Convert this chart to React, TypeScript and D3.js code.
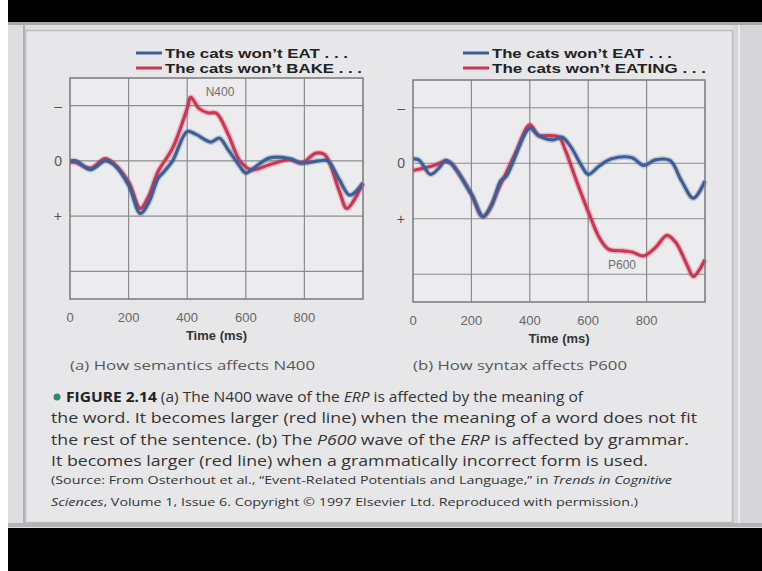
import { useEffect, useRef } from "react";
import * as d3 from "d3";

// x ticks (ms) and y ticks (ERP amplitude, negative plotted up)
const xTicks = [0, 200, 400, 600, 800];
const yTickValues = [-1, 0, 1];
const yTickLabels = ["\u2013", "0", "+"];
const yGrid = [-1, 0, 1, 2];

// (a) semantics panel
const timeEatA = [0, 20, 70, 120, 150, 200, 240, 270, 300, 320, 350, 400, 430, 480, 510, 540, 580, 600, 630, 680, 750, 790, 850, 880, 920, 955, 1000];
const eatA = [0, 0, 0.16, 0, 0.07, 0.44, 0.95, 0.74, 0.32, 0.2, 0, -0.53, -0.48, -0.34, -0.41, -0.2, 0.1, 0.22, 0.12, -0.05, -0.04, 0.04, 0, 0, 0.35, 0.62, 0.4];
const timeBakeA = [0, 20, 70, 120, 150, 200, 240, 270, 300, 350, 400, 412, 440, 470, 500, 540, 580, 620, 680, 750, 790, 840, 870, 920, 945, 1000];
const bakeA = [0.02, 0.03, 0.13, -0.04, 0.05, 0.38, 0.86, 0.62, 0.2, -0.23, -0.95, -1.15, -0.95, -0.87, -0.86, -0.48, 0, 0.16, 0.07, -0.02, 0.04, -0.14, -0.11, 0.56, 0.86, 0.4];

// (b) syntax panel
const timeEatB = [0, 20, 60, 90, 110, 130, 200, 240, 270, 300, 320, 400, 430, 480, 510, 540, 580, 600, 640, 680, 750, 790, 830, 880, 920, 960, 1000];
const eatB = [-0.08, -0.06, 0.2, 0.08, -0.05, 0, 0.56, 0.96, 0.75, 0.32, 0.23, -0.63, -0.5, -0.42, -0.47, -0.3, 0.07, 0.2, 0.04, -0.08, -0.1, 0.04, -0.06, -0.05, 0.32, 0.63, 0.32];
const timeEatingB = [0, 60, 110, 130, 200, 240, 300, 350, 400, 430, 460, 500, 520, 560, 600, 640, 670, 720, 750, 790, 830, 870, 900, 940, 960, 1000];
const eatingB = [0.13, 0.06, -0.03, 0, 0.56, 0.96, 0.38, -0.17, -0.69, -0.5, -0.5, -0.47, -0.26, 0.32, 0.87, 1.36, 1.55, 1.58, 1.6, 1.67, 1.52, 1.3, 1.43, 1.85, 2.04, 1.74];

const legendA = ["The cats won\u2019t EAT . . .", "The cats won\u2019t BAKE . . ."];
const legendB = ["The cats won\u2019t EAT . . .", "The cats won\u2019t EATING . . ."];

const BLUE = "#3d5f97";
const RED = "#cf3452";

export default function App() {
  const svgRef = useRef<SVGSVGElement>(null);

  useEffect(() => {
    if (!svgRef.current) return;
    const svg = d3.select(svgRef.current);
    svg.selectAll("*").remove();

    // slide background / frame
    svg.append("rect").attr("width", 762).attr("height", 571).attr("fill", "#fff");
    svg.append("rect").attr("x", 8).attr("y", 0).attr("width", 754).attr("height", 23).attr("fill", "#000");
    svg.append("rect").attr("x", 8).attr("y", 527).attr("width", 754).attr("height", 44).attr("fill", "#000");
    svg.append("rect").attr("x", 8).attr("y", 22).attr("width", 754).attr("height", 506).attr("fill", "#dedee0");
    svg.append("rect").attr("x", 8).attr("y", 22).attr("width", 754).attr("height", 3).attr("fill", "#a8a8a8");
    svg.append("rect").attr("x", 8).attr("y", 523).attr("width", 754).attr("height", 4).attr("fill", "#b4b4b4");
    svg.append("rect").attr("x", 23).attr("y", 25).attr("width", 2).attr("height", 498).attr("fill", "#b0b0b0");
    svg.append("rect").attr("x", 733).attr("y", 25).attr("width", 29).attr("height", 498).attr("fill", "#d6d6d8");
    svg.append("rect").attr("x", 738).attr("y", 25).attr("width", 2).attr("height", 498).attr("fill", "#ececec");
    svg.append("rect").attr("x", 25.5).attr("y", 30.5).attr("width", 707).attr("height", 492)
      .attr("fill", "#e7e7e9").attr("stroke", "#bcbcbc").attr("stroke-width", 1.5);

    const panels = [
      {
        x0: 70, x1: 363, y0: 78, y1: 299, labelX: 62,
        series: [
          { t: timeBakeA, v: bakeA, color: RED },
          { t: timeEatA, v: eatA, color: BLUE },
        ],
        legend: legendA, legX: 136, legLen: [183, 197],
        note: "N400", noteX: 220, noteY: 96,
        sub: "(a) How semantics affects N400", subLen: 245,
      },
      {
        x0: 413, x1: 705, y0: 80, y1: 302, labelX: 405,
        series: [
          { t: timeEatingB, v: eatingB, color: RED },
          { t: timeEatB, v: eatB, color: BLUE },
        ],
        legend: legendB, legX: 463, legLen: [180, 214],
        note: "P600", noteX: 622, noteY: 269,
        sub: "(b) How syntax affects P600", subLen: 214,
      },
    ];

    panels.forEach((p) => {
      const x = d3.scaleLinear().domain([0, 1000]).range([p.x0, p.x1]);
      const y = d3.scaleLinear().domain([-1.5, 2.5]).range([p.y0, p.y1]);
      const g = svg.append("g");

      g.append("rect")
        .attr("x", p.x0).attr("y", p.y0)
        .attr("width", p.x1 - p.x0).attr("height", p.y1 - p.y0)
        .attr("fill", "#ececee");

      // grid
      g.selectAll(".vgrid")
        .data(xTicks.slice(1))
        .join("line")
        .attr("x1", (d) => x(d)).attr("x2", (d) => x(d))
        .attr("y1", p.y0).attr("y2", p.y1)
        .attr("stroke", "#8c8c8e").attr("stroke-width", 1.2);
      g.selectAll(".hgrid")
        .data(yGrid)
        .join("line")
        .attr("x1", p.x0).attr("x2", p.x1)
        .attr("y1", (d) => y(d)).attr("y2", (d) => y(d))
        .attr("stroke", "#8c8c8e").attr("stroke-width", 1.2);

      // data lines
      const line = d3.line<[number, number]>()
        .x((d) => x(d[0]))
        .y((d) => y(d[1]))
        .curve(d3.curveCatmullRom.alpha(0.5));
      p.series.forEach((s) => {
        const pts = s.t.map((t, i) => [t, s.v[i]] as [number, number]);
        g.append("path")
          .attr("d", line(pts)!)
          .attr("fill", "none")
          .attr("stroke", s.color)
          .attr("stroke-opacity", 0.25)
          .attr("stroke-width", 6)
          .attr("stroke-linejoin", "round");
        g.append("path")
          .attr("d", line(pts)!)
          .attr("fill", "none")
          .attr("stroke", s.color)
          .attr("stroke-width", 3.2)
          .attr("stroke-linejoin", "round");
      });

      g.append("rect")
        .attr("x", p.x0).attr("y", p.y0)
        .attr("width", p.x1 - p.x0).attr("height", p.y1 - p.y0)
        .attr("fill", "none").attr("stroke", "#7a7a7c").attr("stroke-width", 1.5);

      // y tick labels
      g.selectAll(".ylab")
        .data(yTickValues)
        .join("text")
        .attr("x", p.labelX)
        .attr("y", (d) => y(d) + 5)
        .attr("text-anchor", "end")
        .attr("fill", "#555")
        .attr("font-family", "Liberation Sans, Arial, sans-serif")
        .attr("font-size", "14px")
        .text((_, i) => yTickLabels[i]);

      // x tick labels
      g.selectAll(".xlab")
        .data(xTicks)
        .join("text")
        .attr("x", (d) => x(d))
        .attr("y", p.y1 + 23)
        .attr("text-anchor", "middle")
        .attr("fill", "#666")
        .attr("font-family", "Liberation Sans, Arial, sans-serif")
        .attr("font-size", "13px")
        .text((d) => d);

      g.append("text")
        .attr("x", x(500))
        .attr("y", p.y1 + 41)
        .attr("text-anchor", "middle")
        .attr("fill", "#333")
        .attr("font-family", "Liberation Sans, Arial, sans-serif")
        .attr("font-size", "13px")
        .attr("font-weight", "700")
        .text("Time (ms)");

      // legend
      [BLUE, RED].forEach((c, i) => {
        const ly = 53 + i * 15;
        g.append("line")
          .attr("x1", p.legX).attr("x2", p.legX + 26)
          .attr("y1", ly).attr("y2", ly)
          .attr("stroke", c).attr("stroke-width", 3);
        g.append("text")
          .attr("x", p.legX + 29)
          .attr("y", ly + 5)
          .attr("fill", "#222")
          .attr("font-family", "Liberation Sans, Arial, sans-serif")
          .attr("font-size", "13px")
          .attr("font-weight", "700")
          .attr("textLength", p.legLen[i])
          .attr("lengthAdjust", "spacingAndGlyphs")
          .text(p.legend[i]);
      });

      g.append("text")
        .attr("x", p.noteX).attr("y", p.noteY)
        .attr("text-anchor", "middle")
        .attr("fill", "#707070")
        .attr("font-family", "Liberation Sans, Arial, sans-serif")
        .attr("font-size", "12px")
        .text(p.note);

      g.append("text")
        .attr("x", p.x0).attr("y", 370)
        .attr("fill", "#585858")
        .attr("font-family", "Open Sans, Liberation Sans, sans-serif")
        .attr("font-size", "13px")
        .attr("textLength", p.subLen)
        .attr("lengthAdjust", "spacingAndGlyphs")
        .text(p.sub);
    });

    // caption
    const cap = svg.append("g")
      .attr("font-family", "Open Sans, Liberation Sans, sans-serif")
      .attr("fill", "#2e2e2e");
    cap.append("circle").attr("cx", 57).attr("cy", 397).attr("r", 3.5).attr("fill", "#2f8a6c");

    const lines: { y: number; x: number; len: number; size: number; parts: [string, string][] }[] = [
      { y: 402, x: 66, len: 517, size: 15, parts: [["b", "FIGURE 2.14  "], ["n", "(a) The N400 wave of the "], ["i", "ERP"], ["n", " is affected by the meaning of"]] },
      { y: 423, x: 51, len: 646, size: 15, parts: [["n", "the word. It becomes larger (red line) when the meaning of a word does not fit"]] },
      { y: 445, x: 51, len: 638, size: 15, parts: [["n", "the rest of the sentence. (b) The "], ["i", "P600"], ["n", " wave of the "], ["i", "ERP"], ["n", " is affected by grammar."]] },
      { y: 466, x: 51, len: 597, size: 15, parts: [["n", "It becomes larger (red line) when a grammatically incorrect form is used."]] },
      { y: 484, x: 51, len: 621, size: 10.5, parts: [["n", "(Source: From Osterhout et al., \u201CEvent-Related Potentials and Language,\u201D in "], ["i", "Trends in Cognitive"]] },
      { y: 506, x: 51, len: 587, size: 10.5, parts: [["i", "Sciences"], ["n", ", Volume 1, Issue 6. Copyright \u00A9 1997 Elsevier Ltd. Reproduced with permission.)"]] },
    ];
    lines.forEach((l) => {
      const t = cap.append("text")
        .attr("x", l.x).attr("y", l.y)
        .attr("font-size", `${l.size}px`)
        .attr("textLength", l.len)
        .attr("lengthAdjust", "spacingAndGlyphs");
      l.parts.forEach(([k, s]) => {
        t.append("tspan")
          .attr("font-weight", k === "b" ? "700" : "400")
          .attr("font-style", k === "i" ? "italic" : "normal")
          .attr("fill", k === "b" ? "#222" : "#333")
          .text(s);
      });
    });
  }, []);

  return (
    <svg
      ref={svgRef}
      width={762}
      height={571}
      style={{ position: "absolute", left: 0, top: 0, display: "block" }}
      role="img"
      aria-label="ERP waveforms showing N400 for semantic and P600 for syntactic violations"
    />
  );
}
